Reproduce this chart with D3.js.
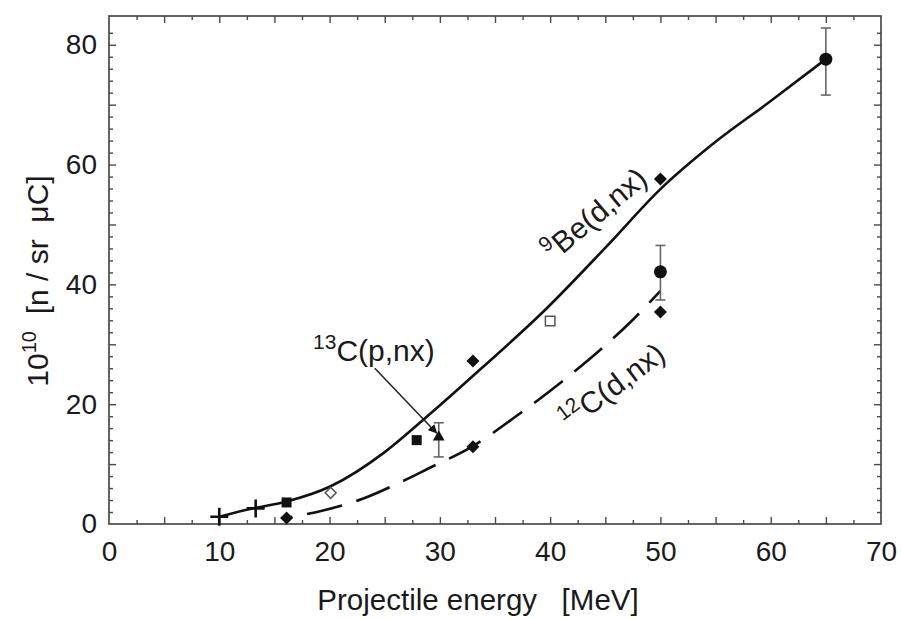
<!DOCTYPE html>
<html><head><meta charset="utf-8">
<script src="https://cdn.jsdelivr.net/npm/d3@7"></script>
<style>
body{margin:0;background:#fff}
text{font-family:"Liberation Sans",Arial,Helvetica,sans-serif;fill:#1a1a1a}
</style>
</head><body>
<svg id="chart" width="901" height="619"></svg>
<script>
// ---- data ----
const xTickLabels = [0, 10, 20, 30, 40, 50, 60, 70];
const yTickLabels = [0, 20, 40, 60, 80];
const xDomain = [0, 70];
const yDomain = [0, 84.8];

// 9Be(d,nx) solid curve
const beCurve = [[10,1.2],[12.8,2.5],[16,3.7],[20.1,6.3],[25,12.0],[28.5,17.4],[33.9,26.2],[39.3,35.3],[45.1,46.3],[50,55.9],[55,63.8],[60,70.6],[65,77.6]];
// 12C(d,nx) dashed curve
const cCurve = [[16,1.0],[19.5,2.3],[23,4.2],[26,6.6],[29,9.3],[33,13.0],[37,18.1],[41.5,24.4],[44.5,29.0],[47.5,34.1],[50,38.9]];

// markers
const crossPts = [[10,1.2],[13.3,2.6]];
const filledSquarePts = [[16.1,3.6],[27.9,14.0]];
const filledDiamondPts = [[16.1,1.0],[33,27.2],[33,12.9],[50,57.6],[50,35.4]];
const openDiamondPts = [[20.1,5.2]];
const openSquarePts = [[40,33.9]];
const trianglePts = [[29.9,14.5]];
const circlePts = [[50,42.1],[65,77.6]];
// error bars: [x, low, high]
const errorBars = [[29.9,11.2,16.9],[50,37.4,46.5],[65,71.6,82.8]];

// ---- layout ----
const svg = d3.select("#chart");
const x = d3.scaleLinear().domain(xDomain).range([109, 881]);
const y = d3.scaleLinear().domain(yDomain).range([524, 16]);

// frame
svg.append("rect")
  .attr("x", x(0)).attr("y", y(yDomain[1]))
  .attr("width", x(70) - x(0)).attr("height", y(0) - y(yDomain[1]))
  .attr("fill", "none").attr("stroke", "#4a4a4a").attr("stroke-width", 1.7);

// ticks via d3 axes (inward)
const xMajor = d3.range(5, 70, 5), xMinor = d3.range(2.5, 70, 5);
const yMajor = d3.range(10, 84, 10), yMinor = d3.range(2, 84, 2).filter(v => v % 10 !== 0);
function tickAxis(axisGen, vals, size, transform) {
  const g = svg.append("g").attr("transform", transform)
    .call(axisGen.tickValues(vals).tickSize(size).tickFormat(""));
  g.select(".domain").remove();
  g.selectAll("line").attr("stroke", "#4a4a4a").attr("stroke-width", 1.4);
}
tickAxis(d3.axisBottom(x), xMajor, -7, `translate(0,${y(0)})`);
tickAxis(d3.axisBottom(x), xMinor, -4, `translate(0,${y(0)})`);
tickAxis(d3.axisTop(x), xMajor, -7, `translate(0,${y(yDomain[1])})`);
tickAxis(d3.axisTop(x), xMinor, -4, `translate(0,${y(yDomain[1])})`);
tickAxis(d3.axisLeft(y), yMajor, -7, `translate(${x(0)},0)`);
tickAxis(d3.axisLeft(y), yMinor, -4, `translate(${x(0)},0)`);
tickAxis(d3.axisRight(y), yMajor, -7, `translate(${x(70)},0)`);
tickAxis(d3.axisRight(y), yMinor, -4, `translate(${x(70)},0)`);

// tick labels
const xl = svg.append("g").attr("transform", `translate(0,${y(0)})`)
  .call(d3.axisBottom(x).tickValues(xTickLabels).tickSize(0).tickPadding(17).tickFormat(d3.format("d")));
xl.select(".domain").remove();
xl.selectAll("text").attr("font-size", 28).attr("fill", "#1a1a1a")
  .attr("font-family", '"Liberation Sans",Arial,sans-serif');
const yl = svg.append("g").attr("transform", `translate(${x(0)},0)`)
  .call(d3.axisLeft(y).tickValues(yTickLabels).tickSize(0).tickPadding(12).tickFormat(d3.format("d")));
yl.select(".domain").remove();
yl.selectAll("text").attr("font-size", 28).attr("fill", "#1a1a1a")
  .attr("font-family", '"Liberation Sans",Arial,sans-serif');

// axis titles
svg.append("text").attr("x", 478).attr("y", 610).attr("text-anchor", "middle")
  .attr("font-size", 29.5).style("white-space", "pre").text("Projectile energy   [MeV]");
const yt = svg.append("text").attr("transform", "translate(48,281) rotate(-90)")
  .attr("text-anchor", "middle").attr("font-size", 30).style("white-space", "pre");
yt.append("tspan").text("10");
yt.append("tspan").attr("font-size", 20).attr("dy", -12).text("10");
yt.append("tspan").attr("dy", 12).text("  [n / sr  \u03bcC]");

// curves
const line = d3.line().x(d => x(d[0])).y(d => y(d[1])).curve(d3.curveMonotoneX);
svg.append("path").datum(beCurve).attr("d", line)
  .attr("fill", "none").attr("stroke", "#111").attr("stroke-width", 2.6);
svg.append("path").datum(cCurve).attr("d", line)
  .attr("fill", "none").attr("stroke", "#111").attr("stroke-width", 2.6)
  .attr("stroke-dasharray", "36,15").attr("stroke-dashoffset", -22);

// error bars
const eb = svg.append("g").attr("stroke", "#666").attr("stroke-width", 1.6);
errorBars.forEach(([ex, lo, hi]) => {
  eb.append("line").attr("x1", x(ex)).attr("x2", x(ex)).attr("y1", y(lo)).attr("y2", y(hi));
  [lo, hi].forEach(v => eb.append("line").attr("x1", x(ex) - 5).attr("x2", x(ex) + 5).attr("y1", y(v)).attr("y2", y(v)));
});

// markers
const sq = d3.symbol().type(d3.symbolSquare);
svg.append("g").selectAll("path").data(filledDiamondPts).join("path")
  .attr("d", sq.size(85)()).attr("fill", "#111")
  .attr("transform", d => `translate(${x(d[0])},${y(d[1])}) rotate(45)`);
svg.append("g").selectAll("path").data(filledSquarePts).join("path")
  .attr("d", sq.size(100)()).attr("fill", "#111")
  .attr("transform", d => `translate(${x(d[0])},${y(d[1])})`);
svg.append("g").selectAll("path").data(openSquarePts).join("path")
  .attr("d", sq.size(90)()).attr("fill", "#fff").attr("stroke", "#555").attr("stroke-width", 1.5)
  .attr("transform", d => `translate(${x(d[0])},${y(d[1])})`);
svg.append("g").selectAll("path").data(openDiamondPts).join("path")
  .attr("d", sq.size(60)()).attr("fill", "#fff").attr("stroke", "#555").attr("stroke-width", 1.5)
  .attr("transform", d => `translate(${x(d[0])},${y(d[1])}) rotate(45)`);
svg.append("g").selectAll("path").data(trianglePts).join("path")
  .attr("d", d3.symbol().type(d3.symbolTriangle).size(60)()).attr("fill", "#111")
  .attr("transform", d => `translate(${x(d[0])},${y(d[1])})`);
svg.append("g").selectAll("circle").data(circlePts).join("circle")
  .attr("cx", d => x(d[0])).attr("cy", d => y(d[1])).attr("r", 6.5).attr("fill", "#111");
svg.append("g").selectAll("path").data(crossPts).join("path")
  .attr("d", "M-9,0H9M0,-9V9").attr("stroke", "#111").attr("stroke-width", 2.6)
  .attr("transform", d => `translate(${x(d[0])},${y(d[1])})`);

// annotations
function label(tx, ty, angle, sup, main) {
  const t = svg.append("text").attr("font-size", 30)
    .attr("transform", `translate(${x(tx)},${y(ty)}) rotate(${angle})`);
  t.append("tspan").attr("font-size", 21).attr("dy", -12).text(sup);
  t.append("tspan").attr("dy", 12).text(main);
}
label(18.5, 27.2, 0, "13", "C(p,nx)");
label(40.3, 43.7, -40, "9", "Be(d,nx)");
label(41.8, 15.5, -37, "12", "C(d,nx)");

// arrow for 13C(p,nx)
const defs = svg.append("defs");
defs.append("marker").attr("id", "ah").attr("viewBox", "0 0 10 10").attr("refX", 9).attr("refY", 5)
  .attr("markerWidth", 9).attr("markerHeight", 9).attr("orient", "auto").attr("markerUnits", "userSpaceOnUse")
  .append("path").attr("d", "M0,0L10,5L0,10z").attr("fill", "#111");
svg.append("line").attr("x1", x(24.1)).attr("y1", y(26.0)).attr("x2", x(29.7)).attr("y2", y(15.2))
  .attr("stroke", "#222").attr("stroke-width", 1.5).attr("marker-end", "url(#ah)");
</script>
</body></html>
